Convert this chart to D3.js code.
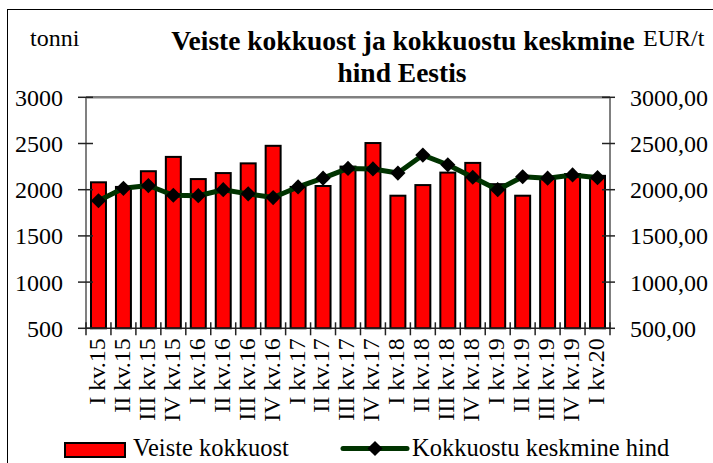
<!DOCTYPE html>
<html>
<head>
<meta charset="utf-8">
<script src="https://cdn.jsdelivr.net/npm/d3@7"></script>
<style>
  body { margin: 0; background: #fff; }
  text { font-family: "Liberation Serif", "Times New Roman", serif; fill: #000; }
</style>
</head>
<body>
<script>
const quarters = ["I kv.15", "II kv.15", "III kv.15", "IV kv.15",
    "I kv.16", "II kv.16", "III kv.16", "IV kv.16",
    "I kv.17", "II kv.17", "III kv.17", "IV kv.17",
    "I kv.18", "II kv.18", "III kv.18", "IV kv.18",
    "I kv.19", "II kv.19", "III kv.19", "IV kv.19",
    "I kv.20"];

// tonni
const kokkuost = [2080, 2030, 2200, 2355, 2115, 2180, 2285, 2475,
    2030, 2040, 2250, 2505, 1935, 2050, 2185, 2290,
    2060, 1935, 2130, 2170, 2150];

// EUR/t
const hind = [1880, 2015, 2045, 1940, 1935, 2000, 1955, 1915,
    2030, 2125, 2230, 2225, 2180, 2375, 2270, 2135,
    2000, 2140, 2125, 2160, 2130];

const yTicks = [500, 1000, 1500, 2000, 2500, 3000];

const W = 713, H = 463;
const plot = { left: 86, right: 610, top: 97.3, bottom: 328.3 };

const svg = d3.select("body").append("svg")
    .attr("width", W)
    .attr("height", H);

// outer frame
svg.append("rect")
    .attr("x", 7.5).attr("y", 9.5)
    .attr("width", W).attr("height", H)
    .attr("fill", "none")
    .attr("stroke", "#000")
    .attr("stroke-width", 1);

const x = d3.scaleBand()
    .domain(quarters)
    .range([plot.left, plot.right])
    .padding(0);

const y = d3.scaleLinear()
    .domain([500, 3000])
    .range([plot.bottom, plot.top]);

const barW = x.bandwidth() * 0.6;

// plot top border
svg.append("line")
    .attr("x1", plot.left).attr("x2", plot.right)
    .attr("y1", plot.top).attr("y2", plot.top)
    .attr("stroke", "#808080")
    .attr("stroke-width", 2.5);

// bars
svg.append("g")
    .selectAll("rect")
    .data(kokkuost)
    .join("rect")
    .attr("x", (d, i) => x(quarters[i]) + (x.bandwidth() - barW) / 2)
    .attr("y", d => y(d))
    .attr("width", barW)
    .attr("height", d => y(500) - y(d))
    .attr("fill", "#ff0000")
    .attr("stroke", "#000")
    .attr("stroke-width", 2);

// left axis
svg.append("line")
    .attr("x1", plot.left).attr("x2", plot.left)
    .attr("y1", plot.top).attr("y2", plot.bottom)
    .attr("stroke", "#808080")
    .attr("stroke-width", 2);
// right axis
svg.append("line")
    .attr("x1", plot.right).attr("x2", plot.right)
    .attr("y1", plot.top).attr("y2", plot.bottom)
    .attr("stroke", "#808080")
    .attr("stroke-width", 2);

const leftAxis = svg.append("g");
leftAxis.selectAll("line")
    .data(yTicks)
    .join("line")
    .attr("x1", plot.left - 8).attr("x2", plot.left + 7)
    .attr("y1", d => y(d)).attr("y2", d => y(d))
    .attr("stroke", "#222")
    .attr("stroke-width", 1.5);
leftAxis.selectAll("text")
    .data(yTicks)
    .join("text")
    .attr("x", 63)
    .attr("y", d => y(d))
    .attr("dy", "0.35em")
    .attr("text-anchor", "end")
    .attr("font-size", 24)
    .text(d => d);

const fmtEur = v => d3.format(".2f")(v).replace(".", ",");
const rightAxis = svg.append("g");
rightAxis.selectAll("line")
    .data(yTicks)
    .join("line")
    .attr("x1", plot.right - 8).attr("x2", plot.right + 5)
    .attr("y1", d => y(d)).attr("y2", d => y(d))
    .attr("stroke", "#222")
    .attr("stroke-width", 1.5);
rightAxis.selectAll("text")
    .data(yTicks)
    .join("text")
    .attr("x", 630)
    .attr("y", d => y(d))
    .attr("dy", "0.35em")
    .attr("font-size", 24)
    .text(fmtEur);

// bottom axis
svg.append("line")
    .attr("x1", plot.left).attr("x2", plot.right)
    .attr("y1", plot.bottom).attr("y2", plot.bottom)
    .attr("stroke", "#222")
    .attr("stroke-width", 1.5);
const bounds = quarters.map(q => x(q)).concat([plot.right]);
svg.append("g")
    .selectAll("line")
    .data(bounds)
    .join("line")
    .attr("x1", d => d).attr("x2", d => d)
    .attr("y1", plot.bottom - 6).attr("y2", plot.bottom + 7)
    .attr("stroke", "#222")
    .attr("stroke-width", 1.5);

svg.append("g")
    .selectAll("text")
    .data(quarters)
    .join("text")
    .attr("transform", d => `translate(${x(d) + x.bandwidth() / 2 - 2},${plot.bottom + 10}) rotate(-90)`)
    .attr("dy", "0.35em")
    .attr("text-anchor", "end")
    .attr("font-size", 24)
    .text(d => d);

// price line
const cx = i => x(quarters[i]) + x.bandwidth() / 2;
const line = d3.line()
    .x((d, i) => cx(i))
    .y(d => y(d));

svg.append("path")
    .attr("d", line(hind))
    .attr("fill", "none")
    .attr("stroke", "#003300")
    .attr("stroke-width", 5)
    .attr("stroke-linejoin", "round");

const diamond = d3.symbol(d3.symbolSquare, 115);
svg.append("g")
    .selectAll("path")
    .data(hind)
    .join("path")
    .attr("d", diamond)
    .attr("transform", (d, i) => `translate(${cx(i)},${y(d)}) rotate(45)`)
    .attr("fill", "#000");

// titles
svg.append("text")
    .attr("x", 30).attr("y", 46)
    .attr("font-size", 24)
    .text("tonni");
svg.append("text")
    .attr("x", 643).attr("y", 46)
    .attr("font-size", 24)
    .text("EUR/t");

const title = svg.append("text")
    .attr("text-anchor", "middle")
    .attr("font-size", 27.5)
    .attr("font-weight", "bold");
title.append("tspan").attr("x", 403).attr("y", 50).text("Veiste kokkuost ja kokkuostu keskmine");
title.append("tspan").attr("x", 402).attr("y", 82).text("hind Eestis");

// legend
const lg = svg.append("g");
lg.append("rect")
    .attr("x", 65).attr("y", 443)
    .attr("width", 60).attr("height", 14)
    .attr("fill", "#ff0000")
    .attr("stroke", "#000")
    .attr("stroke-width", 2);
lg.append("text")
    .attr("x", 133).attr("y", 456)
    .attr("font-size", 24.5)
    .text("Veiste kokkuost");
lg.append("line")
    .attr("x1", 343).attr("x2", 407)
    .attr("y1", 448.5).attr("y2", 448.5)
    .attr("stroke", "#003300")
    .attr("stroke-width", 5)
    .attr("stroke-linecap", "round");
lg.append("path")
    .attr("d", diamond)
    .attr("transform", "translate(375,448.5) rotate(45)")
    .attr("fill", "#000");
lg.append("text")
    .attr("x", 412).attr("y", 456)
    .attr("font-size", 24.5)
    .text("Kokkuostu keskmine hind");
</script>
</body>
</html>
